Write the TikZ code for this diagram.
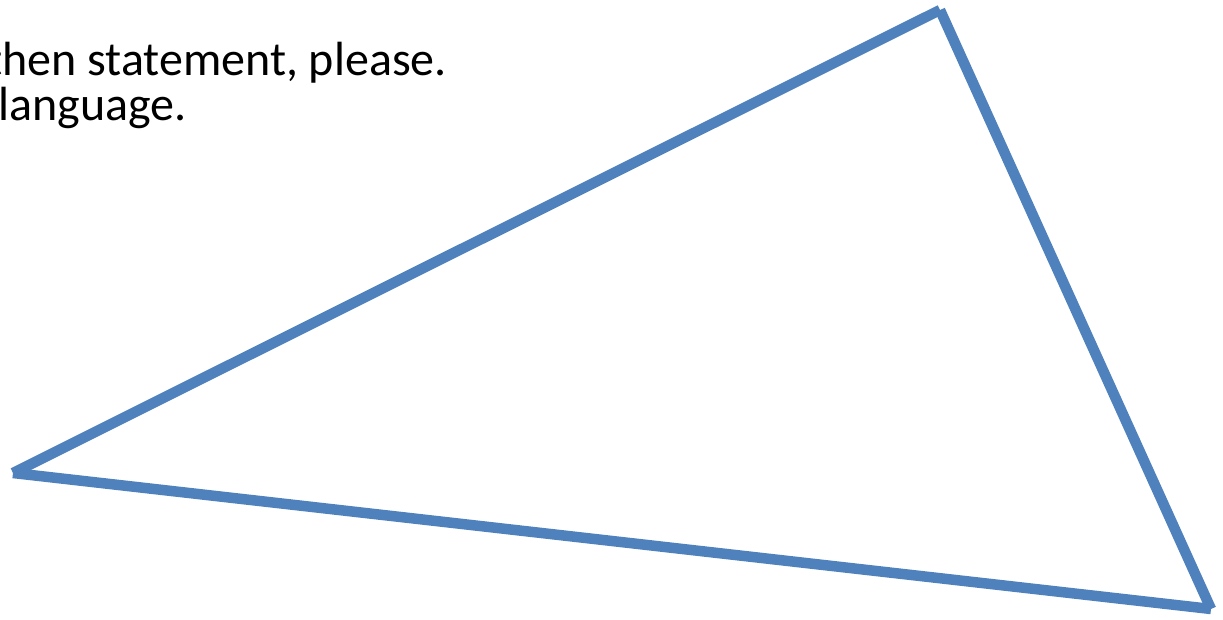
\documentclass[tikz,border=0pt]{standalone}
\usepackage{fontspec}
\setmainfont{Carlito}
\definecolor{edgeblue}{RGB}{79, 129, 189}

\begin{document}
\begin{tikzpicture}[x=1pt, y=-1pt,
    side/.style={draw=edgeblue, line width=10.5pt, line cap=butt},
    txt/.style={inner sep=0pt, font=\fontsize{48}{52}\selectfont, anchor=base east}]
    \useasboundingbox (0,0) rectangle (1223,620);

    % Text lines (the first one cut off at the left)
    \node[txt] (lineone) at (447,76) {then statement, please.};
    \node[txt] (linetwo) at (187,121) {language.};

    % Corners of the triangle
    \coordinate (top) at (940,10);
    \coordinate (left) at (13,473);
    \coordinate (right) at (1211,609);

    % Sides, drawn one by one
    \draw[side] (left) -- (top);
    \draw[side] (top) -- (right);
    \draw[side] (left) -- (right);
  \end{tikzpicture}
\end{document}
